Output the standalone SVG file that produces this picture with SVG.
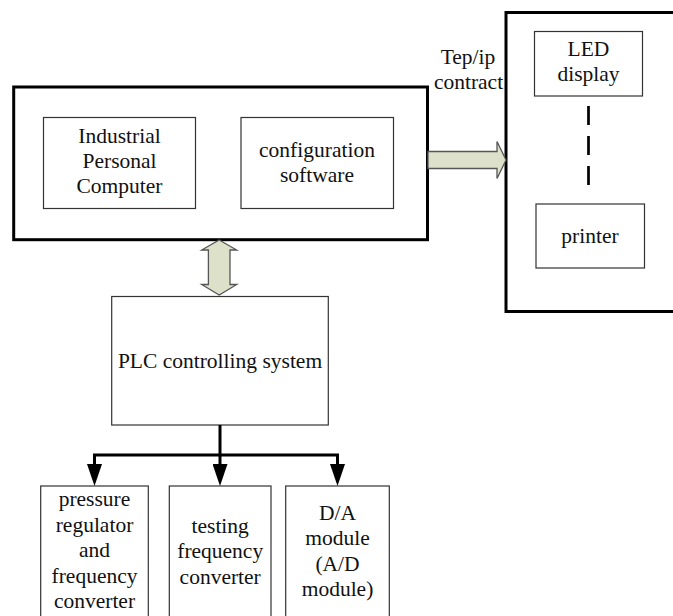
<svg xmlns="http://www.w3.org/2000/svg" width="673" height="616" viewBox="0 0 673 616">
  <defs>
    <style>
      .frame { fill: none; stroke: #000; stroke-width: 3; }
      .box { fill: #fff; stroke: #333; stroke-width: 1.2; }
      .label { font-family: "Liberation Serif", "Times New Roman", serif; font-size: 21.5px; fill: #111; text-anchor: middle; }
      .bus { fill: #dde1c9; stroke: #555; stroke-width: 1.3; stroke-linejoin: miter; }
      .wire { fill: none; stroke: #000; stroke-width: 3; stroke-linejoin: miter; }
    </style>
    <marker id="tri" markerUnits="userSpaceOnUse" viewBox="0 0 22 15" markerWidth="22" markerHeight="15" refX="0" refY="7.5" orient="auto">
      <path d="M0,0 L22,7.5 L0,15 Z" fill="#000"/>
    </marker>
  </defs>

  <rect width="673" height="616" fill="#fff"/>

  <!-- host computer -->
  <g id="host">
    <rect class="frame" x="13.7" y="87" width="413.8" height="152.7"/>
  </g>
  <g id="ipc">
    <rect class="box" x="43.5" y="117.5" width="152" height="91"/>
    <text class="label" x="119.5" y="143">Industrial</text>
    <text class="label" x="119.5" y="168">Personal</text>
    <text class="label" x="119.5" y="193">Computer</text>
  </g>
  <g id="config">
    <rect class="box" x="241" y="117.5" width="152.5" height="91"/>
    <text class="label" x="317" y="157">configuration</text>
    <text class="label" x="317" y="182">software</text>
  </g>

  <!-- output devices -->
  <g id="outputs">
    <rect class="frame" x="506" y="12.5" width="180" height="299"/>
    <line x1="588.5" y1="106" x2="588.5" y2="185" stroke="#000" stroke-width="2.7" stroke-dasharray="19 11"/>
  </g>
  <g id="led">
    <rect class="box" x="534.5" y="31.5" width="108" height="64.5"/>
    <text class="label" x="588.5" y="56">LED</text>
    <text class="label" x="588.5" y="81">display</text>
  </g>
  <g id="printer">
    <rect class="box" x="536" y="204" width="108.5" height="64"/>
    <text class="label" x="590" y="243">printer</text>
  </g>

  <!-- PLC -->
  <g id="plc">
    <rect class="box" x="111.7" y="296.5" width="216.6" height="128.5"/>
    <text class="label" x="220" y="367.5">PLC controlling system</text>
  </g>

  <!-- field devices -->
  <g id="pressure-regulator">
    <rect class="box" x="40.7" y="486" width="107.6" height="150"/>
    <text class="label" x="94.5" y="506">pressure</text>
    <text class="label" x="94.5" y="531.5">regulator</text>
    <text class="label" x="94.5" y="557">and</text>
    <text class="label" x="94.5" y="582.5">frequency</text>
    <text class="label" x="94.5" y="608">converter</text>
  </g>
  <g id="testing-converter">
    <rect class="box" x="169.3" y="486" width="101.7" height="150"/>
    <text class="label" x="220.2" y="532.5">testing</text>
    <text class="label" x="220.2" y="558">frequency</text>
    <text class="label" x="220.2" y="583.5">converter</text>
  </g>
  <g id="da-module">
    <rect class="box" x="285.7" y="486" width="103.6" height="150"/>
    <text class="label" x="337.5" y="519.5">D/A</text>
    <text class="label" x="337.5" y="545">module</text>
    <text class="label" x="337.5" y="570.5">(A/D</text>
    <text class="label" x="337.5" y="596">module)</text>
  </g>

  <!-- connectors -->
  <g id="connectors">
    <text class="label" x="468" y="64">Tep/ip</text>
    <text class="label" x="468.5" y="89">contract</text>
    <polygon class="bus" points="428,151.5 497,151.5 497,141.5 506,160 497,178.5 497,168.5 428,168.5"/>
    <polygon class="bus" points="219.2,240 236.7,250 230,250 230,284.5 236.7,284.5 219.2,295 201.7,284.5 208.4,284.5 208.4,250 201.7,250"/>
    <path class="wire" d="M220,425 V455"/>
    <path class="wire" d="M220,455 H94.5 V464" marker-end="url(#tri)"/>
    <path class="wire" d="M220,455 V464" marker-end="url(#tri)"/>
    <path class="wire" d="M220,455 H337.5 V464" marker-end="url(#tri)"/>
  </g>
</svg>
